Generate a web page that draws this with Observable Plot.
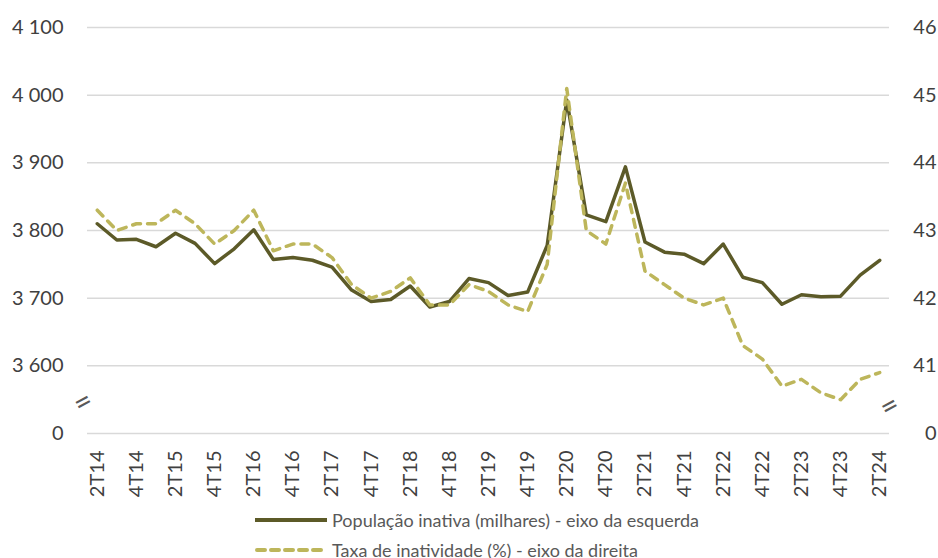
<!DOCTYPE html>
<html><head><meta charset="utf-8">
<script src="https://cdn.jsdelivr.net/npm/d3@7"></script>
<script src="https://cdn.jsdelivr.net/npm/@observablehq/plot@0.6"></script>
<style>
body{margin:0;background:#fff;font-family:Lato,"Noto Sans",sans-serif;overflow:hidden}
#legend{padding-left:255px;color:#595959;font-size:18px}
.row{display:flex;align-items:center;height:30px;white-space:nowrap}
.sw{width:72px;height:10px;margin-right:5px;flex:none}
</style></head><body><div id="chart"></div><div id="legend"></div>
<script>
const quarters = ["2T14","3T14","4T14","1T15","2T15","3T15","4T15","1T16","2T16","3T16","4T16",
  "1T17","2T17","3T17","4T17","1T18","2T18","3T18","4T18","1T19","2T19","3T19","4T19",
  "1T20","2T20","3T20","4T20","1T21","2T21","3T21","4T21","1T22","2T22","3T22","4T22",
  "1T23","2T23","3T23","4T23","1T24","2T24"];
const populacao = [3810,3786,3787,3776,3796,3781,3751,3773,3801,3757,3760,3756,3746,3712,3695,3698,3718,3687,3695,3729,3723,3704,3709,3778,3993,3823,3813,3894,3783,3768,3765,3751,3780,3731,3723,3691,3705,3702,3703,3734,3756];
const taxa = [43.3,43.0,43.1,43.1,43.3,43.1,42.8,43.0,43.3,42.7,42.8,42.8,42.6,42.2,42.0,42.1,42.3,41.9,41.9,42.2,42.1,41.9,41.8,42.5,45.1,43.0,42.8,43.7,42.4,42.2,42.0,41.9,42.0,41.3,41.1,40.7,40.8,40.6,40.5,40.8,40.9];
const xTickLabels = ["2T14","4T14","2T15","4T15","2T16","4T16","2T17","4T17","2T18","4T18","2T19","4T19","2T20","4T20","2T21","4T21","2T22","4T22","2T23","4T23","2T24"];
const leftTicks = [3500,3600,3700,3800,3900,4000,4100];
const leftTickLabels = ["0","3 600","3 700","3 800","3 900","4 000","4 100"];
const rightTicks = [40,41,42,43,44,45,46];
const rightTickLabels = ["0","41","42","43","44","45","46"];
const seriesNames = ["População inativa (milhares) - eixo da esquerda","Taxa de inatividade (%) - eixo da direita"];
const colors = ["#5c5a28","#bdb65b"];

// the broken axes: the "0" tick sits one interval below the lowest shown value
const leftBase = 3500, leftStep = 100, rightBase = 40, rightStep = 1;
const toLeft = r => leftBase + (r - rightBase) / rightStep * leftStep;
const breakLevel = 3546;

const rows = quarters.map((q, i) => ({q, pop: populacao[i], rate: taxa[i]}));
const leftMap = new Map(leftTicks.map((v, i) => [v, leftTickLabels[i]]));
const rightMap = new Map(rightTicks.map((v, i) => [toLeft(v), rightTickLabels[i]]));

const chart = Plot.plot({
  width: 938, height: 505,
  marginLeft: 87, marginRight: 49, marginTop: 27, marginBottom: 72,
  style: {fontFamily: "Lato, 'Noto Sans', sans-serif", fontSize: "20px", color: "#404040", background: "#fff"},
  x: {type: "point", domain: quarters, padding: 0.5, round: false, axis: null},
  y: {domain: [leftBase, 4100], axis: null},
  marks: [
    Plot.ruleY(leftTicks, {stroke: "#d9d9d9", strokeWidth: 1.5}),
    Plot.axisY(leftTicks, {anchor: "left", label: null, tickSize: 0, tickPadding: 24, tickFormat: v => leftMap.get(v), fontSize: 20, fill: "#404040"}),
    Plot.axisY(rightTicks.map(toLeft), {anchor: "right", label: null, tickSize: 0, tickPadding: 47, textAnchor: "end", tickFormat: v => rightMap.get(v), fontSize: 20, fill: "#404040"}),
    Plot.text(xTickLabels, {x: d => d, frameAnchor: "bottom", rotate: -90, textAnchor: "end", lineAnchor: "middle", dy: 17, fontSize: 20, fill: "#404040"}),
    Plot.text([quarters[0]], {x: d => d, y: breakLevel, text: () => "=", rotate: -28, fontSize: 30, dx: -14, fill: "#595959"}),
    Plot.text([quarters[quarters.length - 1]], {x: d => d, y: breakLevel - 6, text: () => "=", rotate: -28, fontSize: 30, dx: 10, fill: "#595959"}),
    Plot.line(rows, {x: "q", y: "pop", stroke: colors[0], strokeWidth: 3.5}),
    Plot.line(rows, {x: "q", y: d => toLeft(d.rate), stroke: colors[1], strokeWidth: 3.5, strokeDasharray: "8,7", strokeLinecap: "round"})
  ]
});
document.getElementById("chart").append(chart);

const legend = document.getElementById("legend");
seriesNames.forEach((name, i) => {
  const row = document.createElement("div");
  row.className = "row";
  const dash = i === 1 ? ' stroke-dasharray="8,6" stroke-linecap="round"' : '';
  row.innerHTML = `<svg class="sw" viewBox="0 0 72 10"><line x1="${i===1?2:0}" y1="5" x2="${i===1?70:72}" y2="5" stroke="${colors[i]}" stroke-width="4"${dash}/></svg><span>${name}</span>`;
  legend.append(row);
});
</script></body></html>
